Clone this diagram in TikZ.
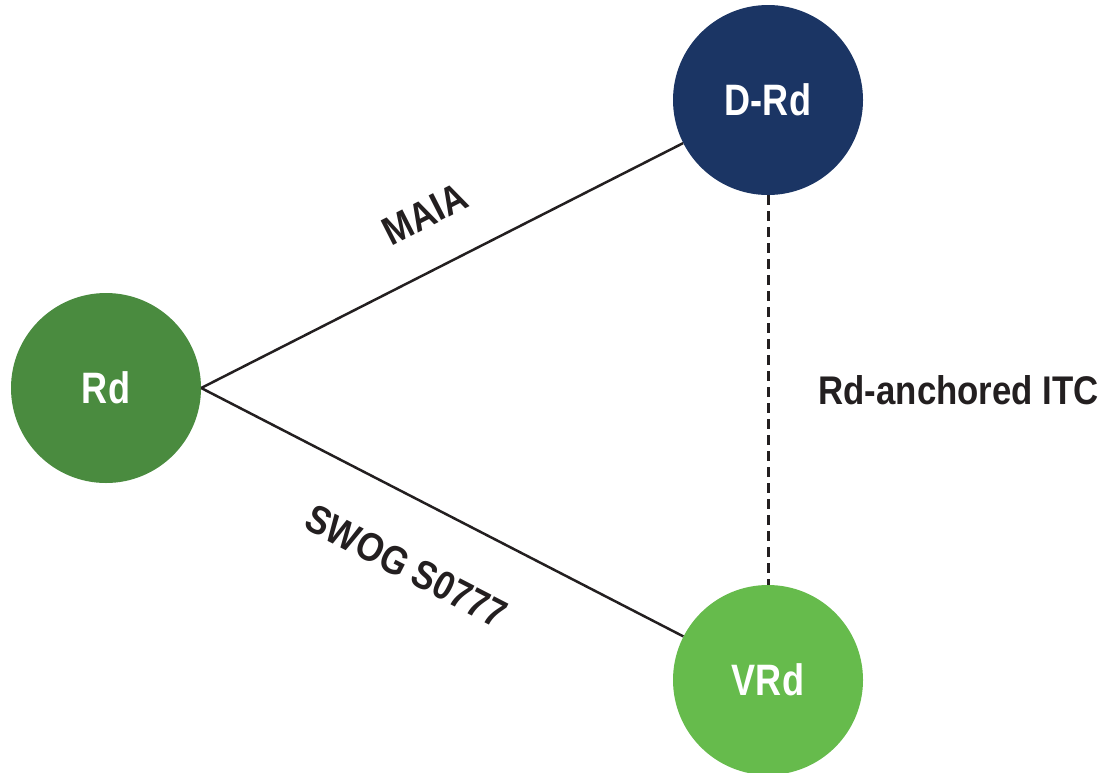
\documentclass[tikz,border=0pt]{standalone}
\usepackage{fontspec}
\setmainfont{Liberation Sans}
\newfontfamily\narrowfont[FakeStretch=0.82]{Liberation Sans}
\newfontfamily\widerfont[FakeStretch=0.87]{Liberation Sans}
\usetikzlibrary{positioning}
\definecolor{navyrd}{RGB}{27,53,100}
\definecolor{darkgreen}{RGB}{74,139,63}
\definecolor{lightgreen}{RGB}{102,187,76}
\definecolor{labeltext}{RGB}{35,31,32}

\begin{document}
\begin{tikzpicture}[x=1pt,y=-1pt,
  bubble/.style={circle, minimum size=190pt, inner sep=0pt, text=white,
    font=\narrowfont\bfseries\fontsize{44}{44}\selectfont},
  link/.style={line width=2.5pt, draw=labeltext},
  armlabel/.style={text=labeltext, inner sep=0pt,
    font=\widerfont\bfseries\fontsize{40}{40}\selectfont}]
  \useasboundingbox (0,0) rectangle (1107,772);
  % treatment arms
  \node[bubble, fill=darkgreen] (rd) at (106,388) {Rd};
  \node[bubble, fill=navyrd] (drd) at (768,100) {D-Rd};
  \node[bubble, fill=lightgreen] (vrd) at (768,680) {VRd};
  % trials
  \draw[link] (rd.east) -- node[armlabel, sloped, pos=0.515, above=39pt] {MAIA} (drd);
  \draw[link] (rd.east) -- node[armlabel, sloped, pos=0.487, below=49pt] {SWOG S0777} (vrd);
  % indirect comparison
  \draw[link, line width=3pt, dash pattern=on 10pt off 6pt] (drd) -- node[armlabel, midway, right=49pt] {Rd-anchored ITC} (vrd);
\end{tikzpicture}
\end{document}
